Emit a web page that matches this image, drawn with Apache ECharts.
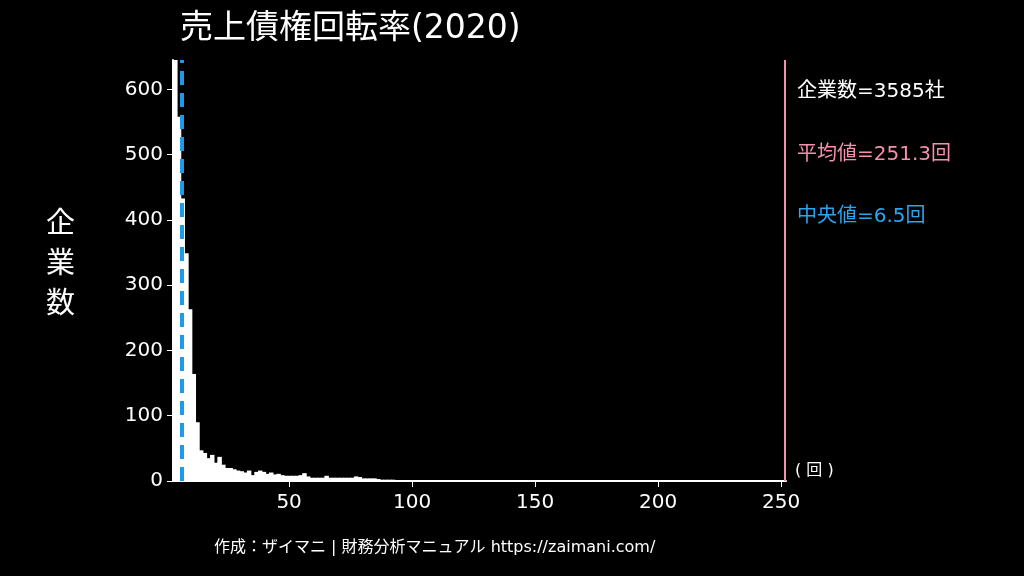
<!DOCTYPE html>
<html><head><meta charset="utf-8">
<script src="https://cdn.jsdelivr.net/npm/echarts@6/dist/echarts.min.js"></script>
<style>html,body{margin:0;background:#000}#c{width:1024px;height:576px}</style>
</head><body><div id="c"></div>
<script>
const binStart = 3.0, binWidth = 1.5;
const counts = [650,558,433,349,263,164,90,47,43,35,40,28,
 37,25,20,20,18,16,15,13,16,9,14,16,14,11,13,10,11,9,8,8,8,8,9,12,7,5,5,5,5,8,5,5,5,5,5,5,5,7,6,4,4,4,4,3,2,2,2,2,1,1,1,1];
const xTicks = [50,100,150,200,250];
const yTicks = [0,100,200,300,400,500,600];
const meanVal = 251.3, medianVal = 6.5, nCompanies = 3585;
const data = counts.map((v,i)=>[binStart+binWidth*(i+0.5), v]);
const F = '"DejaVu Sans","Noto Sans CJK JP",sans-serif';
const chart = echarts.init(document.getElementById('c'));
chart.setOption({
  backgroundColor:'#000', animation:false,
  title:{text:'売上債権回転率(2020)',left:175,top:8,textStyle:{color:'#fff',fontSize:33,fontWeight:'normal',fontFamily:F}},
  grid:{left:173,right:238,top:60,bottom:95},
  xAxis:{type:'value',min:2.8,max:252,
    axisLine:{lineStyle:{color:'#fff',width:2}},
    axisTick:{customValues:xTicks,length:6,lineStyle:{color:'#fff'}},
    axisLabel:{customValues:xTicks,color:'#fff',fontSize:20,fontFamily:F,margin:12},
    splitLine:{show:false}},
  yAxis:{type:'value',min:0,max:645,
    axisLine:{show:true,lineStyle:{color:'#fff',width:2}},
    axisTick:{show:true,customValues:yTicks,length:6,lineStyle:{color:'#fff'}},
    axisLabel:{customValues:yTicks,color:'#fff',fontSize:20,fontFamily:F,margin:10},
    splitLine:{show:false}},
  series:[{type:'bar',data:data,barWidth:4.5,barGap:'0%',itemStyle:{color:'#fff'},
    markLine:{silent:true,symbol:'none',label:{show:false},data:[
      {xAxis:medianVal,lineStyle:{color:'#1e9be8',type:[14,8],width:4}},
      {xAxis:meanVal,lineStyle:{color:'#f48fb1',type:'solid',width:2}}]}}],
  graphic:[
    {type:'text',left:46,top:205,style:{text:'企\n業\n数',fill:'#fff',fontSize:29,lineHeight:40,fontFamily:F}},
    {type:'text',left:797,top:82,style:{text:'企業数='+nCompanies+'社',fill:'#fff',fontSize:20,fontFamily:F}},
    {type:'text',left:797,top:145,style:{text:'平均値='+meanVal+'回',fill:'#f48fb1',fontSize:20,fontFamily:F}},
    {type:'text',left:797,top:207,style:{text:'中央値='+medianVal+'回',fill:'#2aa5f0',fontSize:20,fontFamily:F}},
    {type:'text',left:795,top:463,style:{text:'( 回 )',fill:'#fff',fontSize:16,fontFamily:F}},
    {type:'text',left:214,top:540,style:{text:'作成：ザイマニ | 財務分析マニュアル https://zaimani.com/',fill:'#fff',fontSize:16,fontFamily:F}}
  ]
});
</script></body></html>
